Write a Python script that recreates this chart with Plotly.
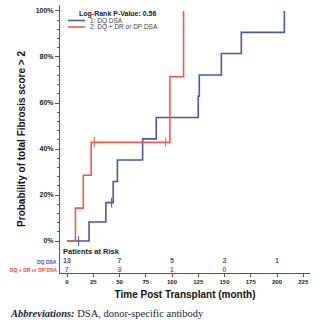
import plotly.graph_objects as go

# ---- data ----
blue_name = "1: DQ DSA"
red_name = "2: DQ + DR or DP DSA"

blue_t = [0, 21, 37, 44, 48, 72, 85, 125, 126, 147, 166, 207]
blue_p = [0, 0.083, 0.167, 0.259, 0.352, 0.444, 0.537, 0.630, 0.722, 0.815, 0.907, 1.0]
blue_cens_t = [11, 42.5]
blue_cens_p = [0, 0.167]

red_t = [0, 8, 15.5, 23, 98, 111]
red_p = [0, 0.143, 0.286, 0.429, 0.714, 1.0]
red_cens_t = [26, 94]
red_cens_p = [0.429, 0.429]

risk_times = [0, 50, 100, 150, 200]
blue_risk = [13, 7, 5, 2, 1]
red_risk = [7, 3, 1, 0]

x_ticks = [0, 25, 50, 75, 100, 125, 150, 175, 200, 225]
y_ticks = [0, 0.2, 0.4, 0.6, 0.8, 1.0]
y_ticktext = ["0%", "20%", "40%", "60%", "80%", "100%"]
y_minor = [i * 0.04 for i in range(26)]

BLUE = "#4a56a8"
RED = "#ef5a4e"
BLUE_TXT = "#3f4fb0"
RED_TXT = "#f0463a"
FONT = "Liberation Sans, Arial, sans-serif"
AX = "#555555"

fig = go.Figure()

fig.add_trace(go.Scatter(x=blue_t, y=blue_p, mode="lines", line=dict(color=BLUE, width=1.6, shape="hv"),
                         name=blue_name, showlegend=False))
fig.add_trace(go.Scatter(x=blue_cens_t, y=blue_cens_p, mode="markers",
                         marker=dict(symbol="line-ns", size=7, line=dict(color=BLUE, width=1)),
                         showlegend=False))
fig.add_trace(go.Scatter(x=red_t, y=red_p, mode="lines", line=dict(color=RED, width=1.6, shape="hv"),
                         name=red_name, showlegend=False))
fig.add_trace(go.Scatter(x=red_cens_t, y=red_cens_p, mode="markers",
                         marker=dict(symbol="line-ns", size=7, line=dict(color=RED, width=1)),
                         showlegend=False))

# numbers at risk
fig.add_trace(go.Scatter(x=risk_times, y=[-0.089] * len(blue_risk), mode="text",
                         text=[str(v) for v in blue_risk],
                         textfont=dict(family=FONT, size=7, color=BLUE_TXT, weight="bold"),
                         showlegend=False, hoverinfo="skip"))
fig.add_trace(go.Scatter(x=risk_times[:len(red_risk)], y=[-0.128] * len(red_risk), mode="text",
                         text=[str(v) for v in red_risk],
                         textfont=dict(family=FONT, size=7, color=RED_TXT, weight="bold"),
                         showlegend=False, hoverinfo="skip"))

W, H = 321, 322
L, R, T, B = 60, 11, 5, 49
pw, ph = W - L - R, H - T - B


def px(x):
    return (x - L) / pw


def py(y):
    return (H - B - y) / ph


annotations = [
    dict(x=px(77), y=py(14), text="<b>Log-Rank P-Value: 0.56</b>", xanchor="left", yanchor="middle",
         font=dict(family=FONT, size=7, color="#222222")),
    dict(x=px(88), y=py(20.5), text=blue_name, xanchor="left", yanchor="middle",
         font=dict(family=FONT, size=6.5, color="#444444")),
    dict(x=px(88), y=py(27), text=red_name, xanchor="left", yanchor="middle",
         font=dict(family=FONT, size=6.5, color="#444444")),
    dict(x=px(61), y=py(251.5), text="<b>Patients at Risk</b>", xanchor="left", yanchor="middle",
         font=dict(family=FONT, size=7.5, color="#222222")),
    dict(x=px(59), y=py(262), text="<b>DQ DSA</b>", xanchor="right", yanchor="middle",
         font=dict(family=FONT, size=5, color=BLUE_TXT)),
    dict(x=px(59), y=py(270), text="<b>DQ + DR or DP DSA</b>", xanchor="right", yanchor="middle",
         font=dict(family=FONT, size=5, color=RED_TXT)),
    dict(x=px(8), y=py(313), text="<b><i>Abbreviations:</i></b> DSA, donor-specific antibody",
         xanchor="left", yanchor="middle",
         font=dict(family="Liberation Serif, Times New Roman, serif", size=10.5, color="#1b1b3a")),
]
for a in annotations:
    a.update(xref="paper", yref="paper", showarrow=False)

shapes = [
    dict(type="line", xref="paper", yref="paper", x0=px(68), x1=px(85), y0=py(20.5), y1=py(20.5),
         line=dict(color=BLUE, width=1.6)),
    dict(type="line", xref="paper", yref="paper", x0=px(68), x1=px(85), y0=py(27), y1=py(27),
         line=dict(color=RED, width=1.6)),
]

fig.update_layout(
    width=W, height=H,
    margin=dict(l=L, r=R, t=T, b=B, autoexpand=False),
    plot_bgcolor="white", paper_bgcolor="white",
    showlegend=False,
    annotations=annotations, shapes=shapes,
    xaxis=dict(range=[-6.67, 231.4], tickmode="array", tickvals=x_ticks,
               ticks="outside", ticklen=3, tickcolor=AX, showline=True, linecolor=AX, linewidth=1,
               showgrid=False, zeroline=False,
               tickfont=dict(family=FONT, size=6, color="#222222", weight="bold"),
               title=dict(text="Time Post Transplant (month)", standoff=6,
                          font=dict(family=FONT, size=10, color="#111111", weight="bold"))),
    yaxis=dict(range=[-0.139, 1.026], tickmode="array", tickvals=y_ticks, ticktext=y_ticktext,
               ticks="outside", ticklen=4, tickcolor=AX, showline=True, linecolor=AX, linewidth=1,
               showgrid=False, zeroline=False,
               minor=dict(tickmode="array", tickvals=y_minor, ticks="outside", ticklen=2, tickcolor=AX),
               tickfont=dict(family=FONT, size=7, color="#222222", weight="bold"),
               title=dict(text="Probability of total Fibrosis score > 2", standoff=8,
                          font=dict(family=FONT, size=10, color="#111111", weight="bold"))),
)

fig.write_html("out.html")
